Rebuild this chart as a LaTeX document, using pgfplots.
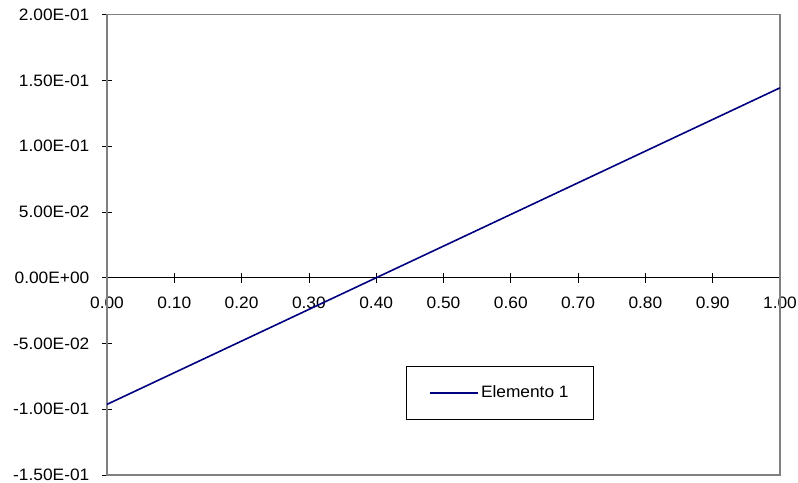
\documentclass[border=0pt]{standalone}
\usepackage{fontspec}
\setmainfont{Liberation Sans}[FakeStretch=1.05]
\usepackage{pgfplots}
\pgfplotsset{compat=1.18}
\definecolor{navyline}{RGB}{0,0,128}
\definecolor{boxgray}{RGB}{128,128,128}
\begin{document}
\fontsize{16.5bp}{19bp}\selectfont
\begin{tikzpicture}
\useasboundingbox (-107bp,-8bp) rectangle (691bp,475bp);
\begin{axis}[
  at={(0,0)}, anchor=south west,
  scale only axis, width=673bp, height=460.3bp,
  xmin=0, xmax=1, ymin=-0.15, ymax=0.2,
  axis x line=middle, axis y line=left,
  axis line style={-, black, line width=1bp},
  hide obscured x ticks=false, hide obscured y ticks=false,
  xtick={0,0.1,0.2,0.3,0.4,0.5,0.6,0.7,0.8,0.9,1},
  xticklabels={0.00,0.10,0.20,0.30,0.40,0.50,0.60,0.70,0.80,0.90,1.00},
  ytick={-0.15,-0.1,-0.05,0,0.05,0.1,0.15,0.2},
  yticklabels={-1.50E-01,-1.00E-01,-5.00E-02,0.00E+00,5.00E-02,1.00E-01,1.50E-01,2.00E-01},
  tick align=center, major tick length=10bp,
  tick style={black, line width=0.8bp},
  /pgf/number format/assume math mode=true,
  tick label style={font=\fontsize{16.5bp}{19bp}\selectfont},
  xticklabel style={yshift=-9bp},
  yticklabel style={xshift=-7bp},
  clip=false,
  legend style={at={(0.584,0.178)}, anchor=center, draw=black, line width=0.8bp,
    inner xsep=23bp, inner ysep=17bp, font=\fontsize{16.5bp}{19bp}\selectfont},
  legend image code/.code={\draw[#1] (0bp,0bp) -- (48bp,0bp);},
]
\draw[boxgray, line width=1.5bp] (rel axis cs:0,0) rectangle (rel axis cs:1,1);
\addplot[navyline, line width=1.6bp] coordinates {(0,-0.0963) (1,0.1444)};
\legend{Elemento 1}
\end{axis}
\end{tikzpicture}
\end{document}
